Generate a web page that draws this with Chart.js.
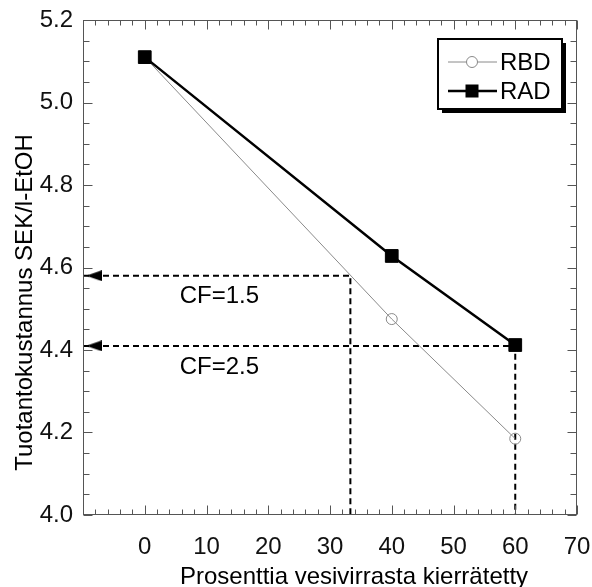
<!DOCTYPE html>
<html>
<head>
<meta charset="utf-8">
<script src="https://cdn.jsdelivr.net/npm/chart.js@4.4.1/dist/chart.umd.min.js"></script>
<style>
  html, body { margin: 0; padding: 0; background: #fff; overflow: hidden; }
  #wrap { width: 592px; height: 587px; position: relative; }
</style>
</head>
<body>
<div id="wrap"><canvas id="costChart"></canvas></div>
<script>
// Data
const percent = [0, 40, 60];
const rbdCost = [5.11, 4.475, 4.185];
const radCost = [5.11, 4.628, 4.412];
const seriesNames = ['RBD', 'RAD'];

// Dashed CF guide lines
const cfLabels = ['CF=1.5', 'CF=2.5'];
const cfCost = [4.58, 4.41];
const cfPercent = [33.3, 60];

const xMin = -10, xMax = 70, xStep = 10, xMinor = 2;
const yMin = 4.0, yMax = 5.2, yStep = 0.2, yMinor = 0.05;

const xTitle = 'Prosenttia vesivirrasta kierrätetty';
const yTitle = 'Tuotantokustannus SEK/l-EtOH';

const fontFamily = '"Liberation Sans", Arial, sans-serif';
const axisColor = '#555';
const rbdColor = '#8a8a8a';

Chart.defaults.font.family = fontFamily;
Chart.defaults.color = '#111';

// small left-pointing arrow head used as a point style
function makeArrow() {
    const c = document.createElement('canvas');
    c.width = 16;
    c.height = 11;
    const g = c.getContext('2d');
    g.fillStyle = '#000';
    g.beginPath();
    g.moveTo(0, 5.5);
    g.lineTo(16, 0);
    g.lineTo(16, 11);
    g.closePath();
    g.fill();
    return c;
}
const arrowImg = makeArrow();

function guideData(i) {
    return [
        { x: xMin, y: cfCost[i] },
        { x: cfPercent[i], y: cfCost[i] },
        { x: cfPercent[i], y: yMin }
    ];
}

// frame plus inward major/minor ticks on all four sides
const frameTicks = {
    id: 'frameTicks',
    afterDraw(chart) {
        const { ctx, chartArea: a, scales: { x, y } } = chart;
        ctx.save();
        ctx.strokeStyle = axisColor;
        ctx.lineWidth = 1;
        const L = Math.round(a.left) + 0.5, R = Math.round(a.right) - 0.5;
        const T = Math.round(a.top) + 0.5, B = Math.round(a.bottom) - 0.5;
        ctx.strokeRect(L, T, R - L, B - T);
        ctx.beginPath();
        const nx = Math.round((xMax - xMin) / xMinor);
        for (let i = 0; i <= nx; i++) {
            const v = xMin + i * xMinor;
            const len = (i % 5 === 0) ? 9 : 5;
            const px = Math.round(x.getPixelForValue(v)) + 0.5;
            ctx.moveTo(px, B); ctx.lineTo(px, B - len);
            ctx.moveTo(px, T); ctx.lineTo(px, T + len);
        }
        const ny = Math.round((yMax - yMin) / yMinor);
        for (let i = 0; i <= ny; i++) {
            const v = yMin + i * yMinor;
            const len = (i % 4 === 0) ? 9 : 6;
            const py = Math.round(y.getPixelForValue(v)) + 0.5;
            ctx.moveTo(L, py); ctx.lineTo(L + len, py);
            ctx.moveTo(R, py); ctx.lineTo(R - len, py);
        }
        ctx.stroke();
        ctx.restore();
    }
};

// axis titles, CF notes and the boxed legend
const annotations = {
    id: 'annotations',
    afterDraw(chart) {
        const { ctx, chartArea: a, scales: { x, y } } = chart;
        ctx.save();
        ctx.fillStyle = '#000';
        ctx.font = '24px ' + fontFamily;
        ctx.textAlign = 'center';
        ctx.textBaseline = 'middle';
        ctx.fillText(xTitle, a.left + a.width / 2 + 24, 577);
        ctx.save();
        ctx.translate(25, a.top + a.height / 2 + 35);
        ctx.rotate(-Math.PI / 2);
        ctx.fillText(yTitle, 0, 0);
        ctx.restore();

        ctx.font = '24px ' + fontFamily;
        ctx.textAlign = 'left';
        cfLabels.forEach((lab, i) => {
            ctx.fillText(lab, x.getPixelForValue(0) + 35, y.getPixelForValue(cfCost[i]) + 21);
        });

        // legend
        const bx = a.right - 139, by = a.top + 19, bw = 124, bh = 70;
        ctx.fillStyle = '#000';
        ctx.fillRect(bx + 4, by + 4, bw, bh);
        ctx.fillStyle = '#fff';
        ctx.fillRect(bx, by, bw, bh);
        ctx.lineWidth = 2;
        ctx.strokeStyle = '#000';
        ctx.strokeRect(bx, by, bw, bh);

        const ds = chart.data.datasets;
        const rows = [ds[1], ds[0]];
        rows.forEach((d, i) => {
            const cy = by + 23 + i * 29;
            const x0 = bx + 10, x1 = bx + 59, cx = bx + 34;
            ctx.strokeStyle = d.borderColor;
            ctx.lineWidth = d.borderWidth;
            ctx.beginPath();
            ctx.moveTo(x0, cy); ctx.lineTo(x1, cy);
            ctx.stroke();
            if (d.pointStyle === 'rect') {
                ctx.fillStyle = d.pointBackgroundColor;
                ctx.fillRect(cx - 6.5, cy - 6.5, 13, 13);
            } else {
                ctx.fillStyle = '#fff';
                ctx.lineWidth = 1;
                ctx.beginPath();
                ctx.arc(cx, cy, 5.5, 0, Math.PI * 2);
                ctx.fill();
                ctx.stroke();
            }
            ctx.fillStyle = '#000';
            ctx.font = '24px ' + fontFamily;
            ctx.textAlign = 'left';
            ctx.fillText(d.label, x1 + 3, cy + 1);
        });
        ctx.restore();
    }
};

new Chart(document.getElementById('costChart'), {
    type: 'scatter',
    data: {
        datasets: [
            {
                label: seriesNames[1],
                data: percent.map((p, i) => ({ x: p, y: radCost[i] })),
                showLine: true,
                borderColor: '#000',
                borderWidth: 2.5,
                pointStyle: 'rect',
                pointRadius: 9,
                pointBackgroundColor: '#000',
                pointBorderColor: '#000',
                pointBorderWidth: 1
            },
            {
                label: seriesNames[0],
                data: percent.map((p, i) => ({ x: p, y: rbdCost[i] })),
                showLine: true,
                borderColor: rbdColor,
                borderWidth: 1,
                pointStyle: 'circle',
                pointRadius: 5.5,
                pointBackgroundColor: 'rgba(255,255,255,0)',
                pointBorderColor: rbdColor,
                pointBorderWidth: 1
            },
            {
                label: 'arrows',
                data: cfCost.map(c => ({ x: -8.2, y: c })),
                showLine: false,
                pointStyle: arrowImg,
                pointRadius: 8
            },
            {
                label: cfLabels[0],
                data: guideData(0),
                showLine: true,
                borderColor: '#000',
                borderWidth: 2,
                borderDash: [6, 4],
                pointRadius: 0
            },
            {
                label: cfLabels[1],
                data: guideData(1),
                showLine: true,
                borderColor: '#000',
                borderWidth: 2,
                borderDash: [6, 4],
                pointRadius: 0
            }
        ]
    },
    options: {
        responsive: true,
        maintainAspectRatio: false,
        animation: false,
        layout: { padding: { top: 20, right: 15, left: 0, bottom: 0 } },
        plugins: {
            legend: { display: false },
            tooltip: { enabled: false }
        },
        scales: {
            x: {
                type: 'linear',
                min: xMin,
                max: xMax,
                grid: { display: false, drawTicks: false },
                border: { display: false },
                ticks: {
                    stepSize: xStep,
                    padding: 18,
                    color: '#111',
                    font: { size: 24 },
                    maxRotation: 0,
                    callback: v => (v < 0 ? '' : v)
                },
                afterFit: s => {
                    s.height = 72;
                    s.paddingLeft = 0;
                    s.paddingRight = 0;
                }
            },
            y: {
                min: yMin,
                max: yMax,
                grid: { display: false, drawTicks: false },
                border: { display: false },
                ticks: {
                    stepSize: yStep,
                    padding: 10,
                    color: '#111',
                    font: { size: 24 },
                    callback: v => v.toFixed(1)
                },
                afterFit: s => {
                    s.width = 83;
                    s.paddingTop = 0;
                    s.paddingBottom = 0;
                }
            }
        }
    },
    plugins: [frameTicks, annotations]
});
</script>
</body>
</html>
